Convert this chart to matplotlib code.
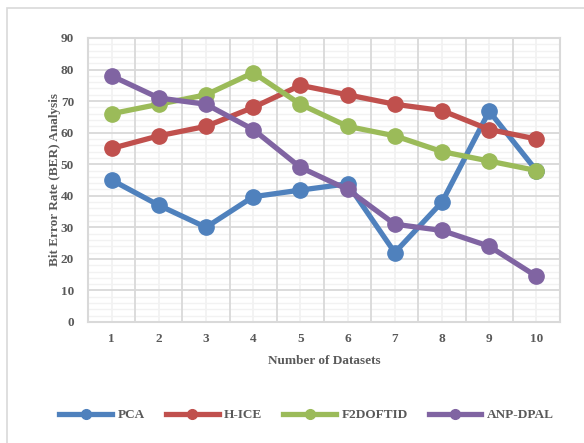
import numpy as np
import matplotlib.pyplot as plt
from matplotlib.patches import Rectangle
from matplotlib.lines import Line2D

# 数据
datasets = [1, 2, 3, 4, 5, 6, 7, 8, 9, 10]
pca = [45, 37, 30, 39.7, 41.8, 43.8, 22, 38, 66.8, 48]
h_ice = [55, 59, 62, 68, 75, 72, 69, 67, 61, 58]
f2doftid = [66, 69, 72, 79, 69, 62, 59, 54, 51, 48]
anp_dpal = [78, 71, 69, 61, 49, 42, 31, 29, 24, 14.5]
names = ['PCA', 'H-ICE', 'F2DOFTID', 'ANP-DPAL']
colors = ['#4F81BD', '#C0504D', '#9BBB59', '#8064A2']

plt.rcParams['font.family'] = ['Liberation Serif', 'DejaVu Serif']
text_color = '#595959'
fs = 9.5
W, H = 584, 443
fig = plt.figure(figsize=(W / 100, H / 100), dpi=100)
ax = fig.add_axes([88 / W, 1 - 322 / H, (560 - 88) / W, (322 - 38) / H])

# 外框
fig.patches.append(Rectangle((7 / W, -0.1), 1.2, 1 - 8 / H + 0.1, transform=fig.transFigure,
                             fill=False, edgecolor='#D9D9D9', linewidth=1.2, clip_on=False))

x = np.array(datasets)
for ys, name, c in zip([pca, h_ice, f2doftid, anp_dpal], names, colors):
    ax.plot(x, ys, color=c, linewidth=3.8, marker='o', markersize=11, label=name,
            solid_capstyle='round', zorder=3)

ax.set_xlim(0.5, 10.5)
ax.set_ylim(0, 90)
ax.set_yticks(np.arange(0, 91, 10))
ax.set_xticks(x)

# 网格
for yv in np.arange(0, 91, 2):
    if yv % 10:
        ax.axhline(yv, color='#F2F2F2', linewidth=1.0, zorder=0)
for yv in np.arange(10, 91, 10):
    ax.axhline(yv, color='#D9D9D9', linewidth=1.3, zorder=1)
for xv in x:
    ax.axvline(xv, color='#F2F2F2', linewidth=1.3, zorder=0)
for xv in np.arange(1.5, 10.5, 1):
    ax.axvline(xv, color='#D9D9D9', linewidth=1.3, zorder=1)

for s in ax.spines.values():
    s.set_color('#D9D9D9')
    s.set_linewidth(1.5)
ax.tick_params(which='both', length=0)
ax.tick_params(axis='y', pad=10)
ax.tick_params(axis='x', pad=8)
for lab in ax.get_xticklabels() + ax.get_yticklabels():
    lab.set_fontweight('bold')
    lab.set_color(text_color)
    lab.set_fontsize(fs)

ax.set_xlabel('Number of Datasets', fontsize=fs, fontweight='bold', color=text_color, labelpad=7)
ax.set_ylabel('Bit Error Rate (BER) Analysis', fontsize=fs, fontweight='bold', color=text_color, labelpad=0)

handles = [Line2D([], [], color=c, linewidth=3.8, marker='o', markersize=7) for c in colors]
fig.legend(handles, names, loc='center', bbox_to_anchor=(0.525, 1 - 415 / H), ncol=4, frameon=False,
           prop={'weight': 'bold', 'size': fs}, labelcolor=text_color, handlelength=4.0,
           columnspacing=1.6, handletextpad=0.4)

fig.savefig('out.png', dpi=100, facecolor='white')
